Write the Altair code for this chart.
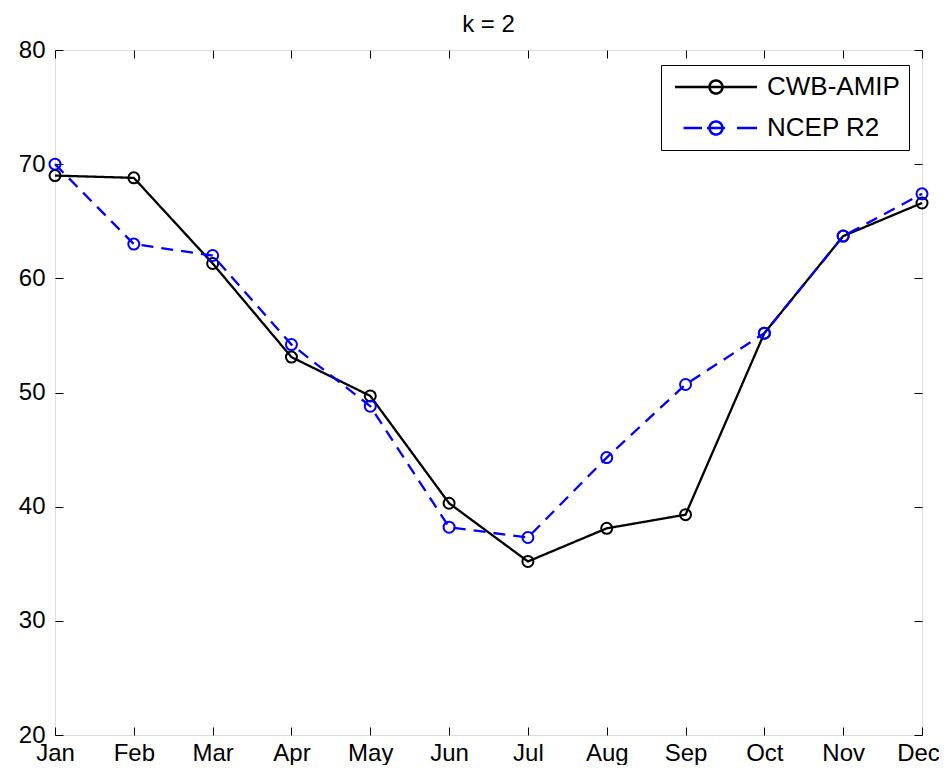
import altair as alt
import pandas as pd

# ---- data ----
months = ["Jan", "Feb", "Mar", "Apr", "May", "Jun", "Jul", "Aug", "Sep", "Oct", "Nov", "Dec"]
cwb_amip = [69.0, 68.8, 61.3, 53.1, 49.7, 40.3, 35.2, 38.1, 39.3, 55.2, 63.7, 66.6]
ncep_r2 = [70.0, 63.0, 62.0, 54.2, 48.8, 38.2, 37.3, 44.3, 50.7, 55.2, 63.7, 67.4]
series_names = ["CWB-AMIP", "NCEP R2"]
series_colors = ["#000000", "#0000FF"]
series_dashes = [[1, 0], [12, 8]]
y_ticks = [20, 30, 40, 50, 60, 70, 80]
title_text = "k = 2"

rows = []
for name, vals in zip(series_names, [cwb_amip, ncep_r2]):
    for m, v in zip(months, vals):
        rows.append({"month": m, "series": name, "value": v})
df = pd.DataFrame(rows)

FONT = "Liberation Sans"

# legend symbols: line sample with a circle marker (solid / dashed)
circle = "M0.65,0 A0.65,0.65 0 1,1 -0.65,0 A0.65,0.65 0 1,1 0.65,0"
sym_solid = "M-4.1,0H4.1 " + circle
sym_dashed = "M-3.25,0H-1.4 M-0.9,0H0.9 M2.1,0H4.1 " + circle

legend = alt.Legend(
    title=None, orient="none", legendX=606, legendY=15,
    labelFont=FONT, labelFontSize=26, labelColor="#000000",
    symbolSize=400, symbolStrokeWidth=2.5, symbolOpacity=1, symbolDash=[1, 0],
    symbolOffset=33, labelOffset=38,
    strokeColor="#000000", fillColor="#ffffff",
    padding=9, rowPadding=15,
)

x_scale = alt.Scale(type="point", domain=months, padding=0)
y_scale = alt.Scale(domain=[20, 80], nice=False, zero=False)
color_scale = alt.Scale(domain=series_names, range=series_colors)

axis_common = dict(domain=False, grid=False, tickSize=8, offset=-8,
                   tickColor="#000000", tickWidth=1,
                   labelFont=FONT, labelFontSize=24, labelColor="#000000")

x_bottom = alt.X("month:N", scale=x_scale, title=None,
                 axis=alt.Axis(orient="bottom", labelAngle=0, labelPadding=6,
                               labelOffset={"condition": {"test": "datum.value == 'Dec'", "value": -4},
                                            "value": 0},
                               **axis_common))
y_left = alt.Y("value:Q", scale=y_scale, title=None,
               axis=alt.Axis(orient="left", values=y_ticks, labelPadding=10, **axis_common))
x_top = alt.X("month:N", scale=x_scale, title=None,
              axis=alt.Axis(orient="top", labels=False, **axis_common))
y_right = alt.Y("value:Q", scale=y_scale, title=None,
                axis=alt.Axis(orient="right", values=y_ticks, labels=False, **axis_common))
x_plain = alt.X("month:N", scale=x_scale, axis=None)
y_plain = alt.Y("value:Q", scale=y_scale, axis=None)

color = alt.Color("series:N", scale=color_scale, legend=legend)

layers = []
for i, (name, dash) in enumerate(zip(series_names, series_dashes)):
    sub = alt.Chart(df).transform_filter(alt.datum.series == name)
    line = sub.mark_line(strokeWidth=2.3, strokeDash=dash).encode(
        x=x_bottom if i == 0 else x_plain,
        y=y_left if i == 0 else y_plain,
        color=color,
    )
    pts = sub.mark_point(filled=False, size=121, strokeWidth=2, opacity=1).encode(
        x=x_plain, y=y_plain, color=color,
    )
    layers += [line, pts]

legend_layer = alt.Chart(df).mark_point(filled=False, opacity=1).encode(
    x=x_top, y=y_right, color=color,
    shape=alt.Shape("series:N", scale=alt.Scale(domain=series_names, range=[sym_solid, sym_dashed]),
                    legend=legend),
).transform_filter("false")
layers.append(legend_layer)

chart = alt.layer(*layers).resolve_axis(
    x="independent", y="independent"
).properties(
    width=867, height=685,
    autosize=alt.AutoSizeParams(type="none"),
    padding={"left": 47, "top": 42, "right": 17, "bottom": 30},
    title=alt.TitleParams(title_text, font=FONT, fontSize=24, fontWeight="normal",
                          color="#000000", offset=1, anchor="middle"),
).configure_view(stroke="#000000", strokeWidth=1.5).configure(background="#ffffff")

chart.save("out.html", embed_options={"renderer": "svg", "actions": False})
